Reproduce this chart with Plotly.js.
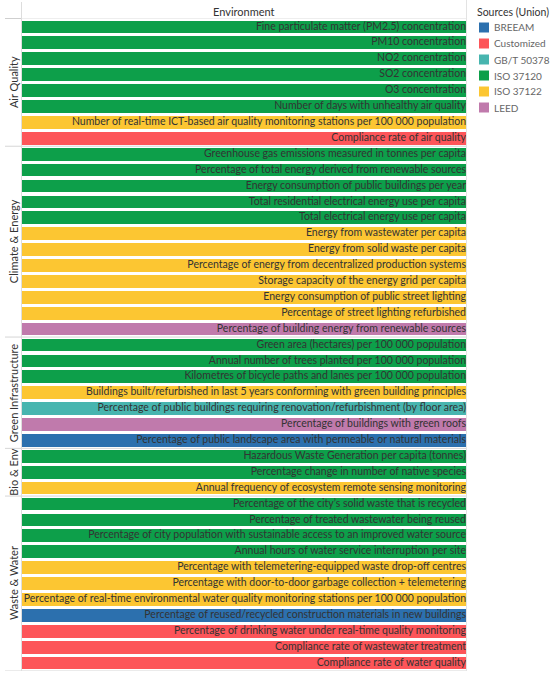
<!DOCTYPE html>
<html>
<head>
<meta charset="utf-8">
<script src="https://cdn.plot.ly/plotly-3.0.1.min.js"></script>
<style>html,body{margin:0;padding:0;background:#fff;}#chart{width:550px;height:677px;}</style>
</head>
<body>
<div id="chart"></div>
<script>
// ---- data ----
const groups = ["Air Quality", "Climate & Energy", "Green Infrastructure", "Bio & Env", "Waste & Water"];
const groupSizes = [8, 12, 7, 3, 11];

const metrics = [
  "Fine particulate matter (PM2.5) concentration",
  "PM10 concentration",
  "NO2 concentration",
  "SO2 concentration",
  "O3 concentration",
  "Number of days with unhealthy air quality",
  "Number of real-time ICT-based air quality monitoring stations per 100 000 population",
  "Compliance rate of air quality",
  "Greenhouse gas emissions measured in tonnes per capita",
  "Percentage of total energy derived from renewable sources",
  "Energy consumption of public buildings per year",
  "Total residential electrical energy use per capita",
  "Total electrical energy use per capita",
  "Energy from wastewater per capita",
  "Energy from solid waste per capita",
  "Percentage of energy from decentralized production systems",
  "Storage capacity of the energy grid per capita",
  "Energy consumption of public street lighting",
  "Percentage of street lighting refurbished",
  "Percentage of building energy from renewable sources",
  "Green area (hectares) per 100 000 population",
  "Annual number of trees planted per 100 000 population",
  "Kilometres of bicycle paths and lanes per 100 000 population",
  "Buildings built/refurbished in last 5 years conforming with green building principles",
  "Percentage of public buildings requiring renovation/refurbishment (by floor area)",
  "Percentage of buildings with green roofs",
  "Percentage of public landscape area with permeable or natural materials",
  "Hazardous Waste Generation per capita (tonnes)",
  "Percentage change in number of native species",
  "Annual frequency of ecosystem remote sensing monitoring",
  "Percentage of the city\u2019s solid waste that is recycled",
  "Percentage of treated wastewater being reused",
  "Percentage of city population with sustainable access to an improved water source",
  "Annual hours of water service interruption per site",
  "Percentage with telemetering-equipped waste drop-off centres",
  "Percentage with door-to-door garbage collection + telemetering",
  "Percentage of real-time environmental water quality monitoring stations per 100 000 population",
  "Percentage of reused/recycled construction materials in new buildings",
  "Percentage of drinking water under real-time quality monitoring",
  "Compliance rate of wastewater treatment",
  "Compliance rate of water quality"
];

const metricSources = [
  "ISO 37120","ISO 37120","ISO 37120","ISO 37120","ISO 37120","ISO 37120","ISO 37122","Customized",
  "ISO 37120","ISO 37120","ISO 37120","ISO 37120","ISO 37120","ISO 37122","ISO 37122","ISO 37122","ISO 37122","ISO 37122","ISO 37122","LEED",
  "ISO 37120","ISO 37120","ISO 37120","ISO 37122","GB/T 50378","LEED","BREEAM",
  "ISO 37120","ISO 37120","ISO 37122",
  "ISO 37120","ISO 37120","ISO 37120","ISO 37120","ISO 37122","ISO 37122","ISO 37122","BREEAM","Customized","Customized","Customized"
];

// each indicator counted once
const metricCounts = metrics.map(() => 1);

const sources = ["BREEAM", "Customized", "GB/T 50378", "ISO 37120", "ISO 37122", "LEED"];
const sourceColors = ["#2c70ae", "#fd5559", "#47b5af", "#0d9f4a", "#fcc632", "#c07aac"];
const legendTitle = "Sources (Union)";
const headerTitle = "Environment";

// ---- layout geometry (pixels) ----
const W = 550, H = 677;
const L = 22, R = 466, T = 19, B = 671;
const pw = R - L, ph = B - T;
const px = v => (v - L) / pw;          // pixel x -> paper x
const py = v => (B - v) / ph;          // pixel y -> paper y

const FONT = "Lato, 'Liberation Sans', sans-serif";

const traces = sources.map((s, k) => {
  const ys = [], xs = [];
  metrics.forEach((m, i) => { if (metricSources[i] === s) { ys.push(m); xs.push(metricCounts[i]); } });
  return {
    type: "bar", orientation: "h", name: s, x: xs, y: ys, width: 0.8,
    marker: {color: sourceColors[k], line: {width: 0}},
    hoverinfo: "skip", showlegend: false
  };
});

traces.push({
  type: "scatter", mode: "text", x: metricCounts, y: metrics, text: metrics,
  textposition: "middle left",
  textfont: {family: FONT, size: 10.5, color: "#333333"},
  showlegend: false, hoverinfo: "skip", cliponaxis: false
});

// ---- lines & group labels ----
const shapes = [];
const annotations = [];
const lineCol = "#d6d6d6";
let start = 0;
groups.forEach((g, gi) => {
  const end = start + groupSizes[gi] - 1;
  annotations.push({
    xref: "paper", yref: "y", x: px(13.5), y: (start + end) / 2,
    xanchor: "center", yanchor: "middle",
    text: g, textangle: -90, showarrow: false,
    font: {family: FONT, size: 11, color: "#333333"}
  });
  if (gi < groups.length - 1) {
    shapes.push({type: "line", xref: "paper", yref: "y", x0: px(5), x1: px(466.5), y0: end + 0.5, y1: end + 0.5,
      line: {color: lineCol, width: 1}});
  }
  start = end + 1;
});
// outer frame lines
shapes.push({type: "line", xref: "paper", yref: "y", x0: px(5), x1: px(466.5), y0: metrics.length - 0.5, y1: metrics.length - 0.5, line: {color: lineCol, width: 1}});
shapes.push({type: "line", xref: "paper", yref: "paper", x0: px(5), x1: px(21.5), y0: py(18.5), y1: py(18.5), line: {color: "#cfcfcf", width: 1}});
shapes.push({type: "line", xref: "paper", yref: "paper", x0: px(21.5), x1: px(466.5), y0: py(18.5), y1: py(18.5), line: {color: "#eeeeee", width: 1}});
shapes.push({type: "line", xref: "paper", yref: "paper", x0: px(21.5), x1: px(21.5), y0: 0, y1: py(2), line: {color: "#dddddd", width: 1}});
shapes.push({type: "line", xref: "paper", yref: "paper", x0: px(466.5), x1: px(466.5), y0: 0, y1: py(0), line: {color: "#e3e3e3", width: 1}});

annotations.push({
  xref: "paper", yref: "paper", x: 0.5, y: py(11.5), xanchor: "center", yanchor: "middle",
  text: headerTitle, showarrow: false,
  font: {family: FONT, size: 11, color: "#333333"}
});

// ---- legend (drawn from sources / sourceColors) ----
annotations.push({
  xref: "paper", yref: "paper", x: px(475), y: py(12.5), xanchor: "left", yanchor: "middle",
  text: legendTitle, showarrow: false, font: {family: FONT, size: 10.5, color: "#333333"}
});
sources.forEach((s, k) => {
  const cy = 27.5 + 16 * k;
  shapes.push({type: "rect", xref: "paper", yref: "paper", x0: px(479), x1: px(489), y0: py(cy - 5), y1: py(cy + 5),
    fillcolor: sourceColors[k], line: {width: 0}});
  annotations.push({
    xref: "paper", yref: "paper", x: px(492), y: py(cy), xanchor: "left", yanchor: "middle",
    text: s, showarrow: false, font: {family: FONT, size: 10, color: "#666666"}
  });
});

const layout = {
  width: W, height: H,
  margin: {l: L, r: W - R, t: T, b: H - B, pad: 0},
  paper_bgcolor: "#ffffff", plot_bgcolor: "#ffffff",
  barmode: "stack", bargap: 0.2,
  hovermode: false, showlegend: false,
  xaxis: {range: [0, 1], showgrid: false, zeroline: false, showticklabels: false, showline: false, fixedrange: true, automargin: false},
  yaxis: {type: "category", categoryorder: "array", categoryarray: metrics, range: [metrics.length - 0.5, -0.5], autorange: false,
    showgrid: false, zeroline: false, showticklabels: false, showline: false, fixedrange: true, automargin: false},
  shapes: shapes,
  annotations: annotations
};

Plotly.newPlot("chart", traces, layout, {displayModeBar: false, staticPlot: true});
</script>
</body>
</html>
